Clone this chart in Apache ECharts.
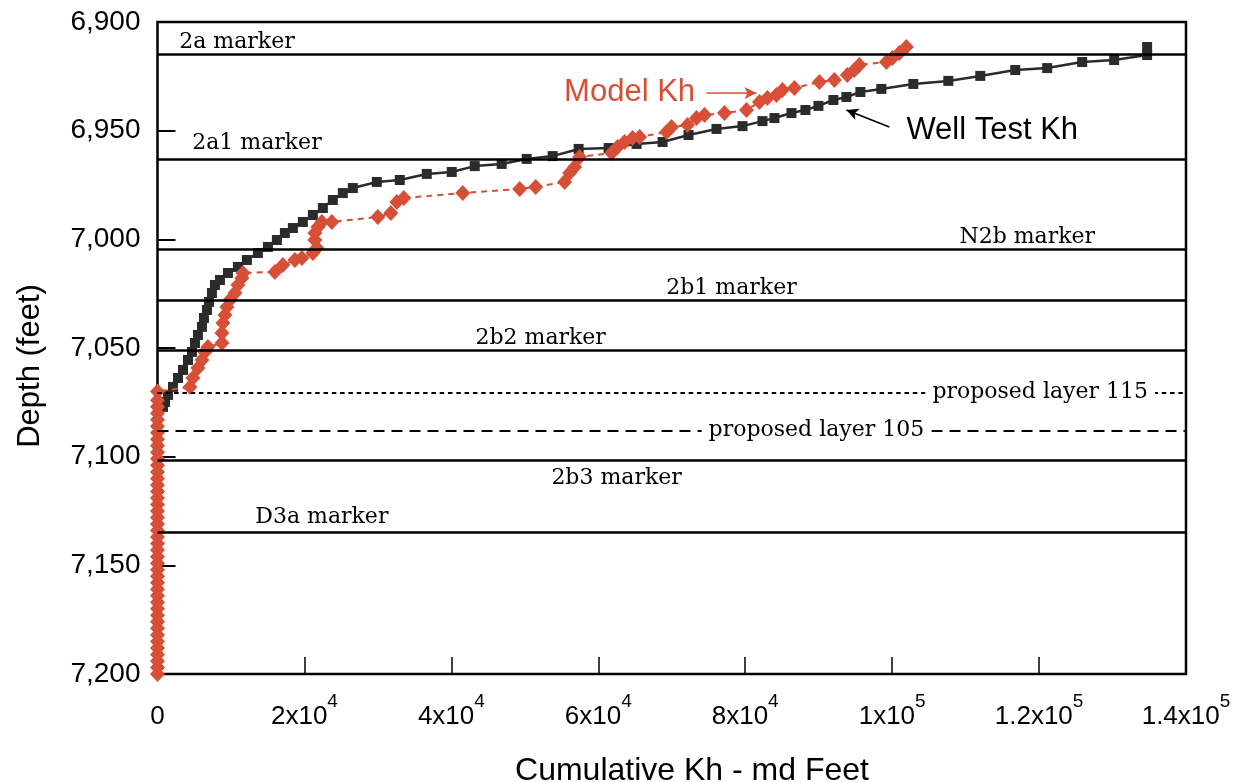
<!DOCTYPE html>
<html>
<head>
<meta charset="utf-8">
<script src="https://cdn.jsdelivr.net/npm/echarts@6/dist/echarts.min.js"></script>
<style>
html,body{margin:0;padding:0;background:#fff;}
#chart{width:1239px;height:782px;}
</style>
</head>
<body>
<div id="chart"></div>
<script>
// ---- axis ticks ----
const depthTicks = [6900, 6950, 7000, 7050, 7100, 7150, 7200];
const depthTickLabels = ['6,900', '6,950', '7,000', '7,050', '7,100', '7,150', '7,200'];
const khTicks = [0, 20000, 40000, 60000, 80000, 100000, 120000, 140000];
const khTickBase = ['0', '2x10', '4x10', '6x10', '8x10', '1x10', '1.2x10', '1.4x10'];
const khTickExp = ['', '4', '4', '4', '4', '5', '5', '5'];

// ---- Well Test Kh (black squares) ----
const wellTestKh = [748, 1020, 1428, 2108, 2788, 3468, 4148, 4692, 5100, 5508, 6052, 6324, 6732, 7004, 7412, 7820,
  8500, 9588, 10948, 12172, 13668, 15028, 16252, 17340, 18428, 19788, 21148, 22508, 23868, 25228, 26588,
  29852, 32980, 36652, 40052, 43180, 46852, 50252, 53788, 57324, 61404, 65212, 68748, 72284, 76092, 79628,
  82348, 83980, 86292, 88196, 89964, 92004, 93772, 95676, 98532, 102884, 107644, 111996, 116756, 121108,
  125868, 130220, 134708, 134708];
const wellTestDepth = [7077.1, 7074.8, 7071.6, 7067.9, 7063.8, 7060.1, 7055.5, 7051.8, 7047.7, 7044.0, 7040.3, 7036.2,
  7032.5, 7028.8, 7024.7, 7021.0, 7018.7, 7015.5, 7012.7, 7009.5, 7006.3, 7003.5, 7000.3, 6997.1, 6994.8,
  6992.0, 6988.8, 6985.6, 6981.9, 6978.7, 6976.4, 6973.6, 6972.7, 6969.9, 6969.0, 6966.3, 6965.3, 6963.0,
  6961.7, 6958.4, 6958.0, 6956.1, 6955.2, 6952.0, 6949.2, 6947.9, 6945.6, 6944.2, 6941.9, 6940.5, 6938.6,
  6935.9, 6934.5, 6932.2, 6930.8, 6928.5, 6927.1, 6924.8, 6922.1, 6921.2, 6918.4, 6917.5, 6915.2, 6911.5];

// ---- Model Kh (red diamonds) ----
const modelKh = [0, 0, 0, 0, 0, 0, 0, 0, 0, 0, 0, 0, 0, 0, 0, 0, 0, 0, 0, 0, 0, 0, 0, 0, 0, 0, 0, 0, 0, 0, 0, 0, 0, 0,
  0, 0, 0, 0, 0, 0, 0, 0, 0, 0,
  4420, 4828, 5508, 6052, 6460, 6868, 8772, 8772, 8908, 9180, 9452, 9860, 10540, 10948, 11492, 11628,
  15980, 17068, 18700, 19652, 21148, 21692, 21420, 21420, 21828, 22372, 23732, 29988, 31756, 32572, 33524,
  41548, 49300, 51476, 55420, 56100, 56780, 57460, 61812, 62628, 63580, 64668, 65620, 69292, 69972, 72148,
  73372, 74460, 77180, 80172, 81940, 83028, 84252, 85068, 86700, 90100, 92140, 93908, 94860, 95540, 99212,
  100028, 100980, 101932];
const modelDepth = [7200, 7197, 7194, 7191, 7188, 7185, 7182, 7179, 7176, 7173, 7170, 7167, 7164, 7161, 7158, 7155,
  7152, 7149, 7146, 7143, 7140, 7137, 7134, 7131, 7128, 7125, 7122, 7119, 7116, 7113, 7110, 7107, 7104, 7101,
  7098, 7095, 7092, 7089, 7086, 7083, 7080, 7077, 7074, 7070,
  7067.9, 7063.8, 7059.2, 7055.5, 7051.8, 7049.5, 7047.7, 7043.1, 7038.5, 7034.8, 7031.1, 7027.9, 7024.7,
  7021.0, 7017.8, 7015.5, 7015.0, 7011.8, 7009.5, 7008.6, 7006.3, 7004.0, 7000.3, 6997.1, 6994.3, 6992.0,
  6992.0, 6989.7, 6987.9, 6982.8, 6981.0, 6978.7, 6976.8, 6975.9, 6973.6, 6969.5, 6966.7, 6962.1, 6960.3,
  6957.5, 6955.2, 6953.4, 6952.9, 6950.6, 6948.3, 6947.4, 6944.2, 6942.8, 6941.9, 6940.5, 6936.8, 6935.0,
  6933.6, 6931.3, 6930.4, 6927.6, 6926.7, 6924.4, 6922.1, 6919.8, 6918.4, 6916.6, 6914.3, 6911.5];

// ---- stratigraphic markers ----
const markerNames = ['2a marker', '2a1 marker', 'N2b marker', '2b1 marker', '2b2 marker',
  'proposed layer 115', 'proposed layer 105', '2b3 marker', 'D3a marker'];
const markerDepths = [6915, 6963, 7004.6, 7028, 7051, 7070.8, 7088, 7101.5, 7135];
const markerKinds = ['solid', 'solid', 'solid', 'solid', 'solid', 'dotted', 'dashed', 'solid', 'solid'];
const markerLabelKh = [10812, 13532, 118388, 78132, 52156, 120156, 89692, 62492, 22372];
const markerLabelDepth = [6909.2, 6955.7, 6998.9, 7022.4, 7045.4, 7070.6, 7087.7, 7109.8, 7127.7];

// ---- annotations ----
const annotNames = ['Model Kh', 'Well Test Kh'];
const annotKh = [64260, 113628];
const annotDepth = [6932.2, 6949.7];
const arrowFrom = [[74732, 6932.7], [99620, 6948.3]];
const arrowTo = [[81532, 6932.7], [93772, 6940.5]];

const RED = '#d64f36';
const BLACK = '#2b2b2b';

function zip(a, b) { return a.map((v, i) => [v, b[i]]); }

const dashFor = { solid: 'solid', dotted: [4.5, 3.8], dashed: [11, 7] };

const option = {
  animation: false,
  backgroundColor: '#fff',
  grid: { left: 157.5, right: 53, top: 22, bottom: 108, show: true, borderColor: '#000', borderWidth: 2.5, backgroundColor: 'transparent' },
  xAxis: {
    type: 'value', min: 0, max: 140000, interval: 20000,
    splitLine: { show: false },
    axisLine: { show: false },
    axisTick: { show: true, inside: true, length: 17, lineStyle: { color: '#000', width: 1.5 } },
    axisLabel: {
      margin: 18,
      formatter: function (v) {
        const i = khTicks.indexOf(v);
        if (i < 0) return '';
        return khTickExp[i] ? '{m|' + khTickBase[i] + '}{e|' + khTickExp[i] + '}' : '{m|' + khTickBase[i] + '}';
      },
      rich: {
        m: { fontFamily: 'Liberation Sans', fontSize: 26, color: '#000', lineHeight: 50 },
        e: { fontFamily: 'Liberation Sans', fontSize: 19, color: '#000', verticalAlign: 'top', lineHeight: 20 }
      }
    }
  },
  yAxis: {
    type: 'value', min: 6900, max: 7200, interval: 50, inverse: true,
    splitLine: { show: false },
    axisLine: { show: false },
    axisTick: { show: true, inside: true, length: 18, lineStyle: { color: '#000', width: 2 } },
    axisLabel: {
      margin: 17,
      fontFamily: 'Liberation Sans', fontSize: 28, color: '#000',
      formatter: function (v) { const i = depthTicks.indexOf(v); return i < 0 ? '' : depthTickLabels[i]; }
    }
  },
  graphic: [
    { type: 'text', x: 30, y: 366, rotation: Math.PI / 2,
      style: { text: 'Depth (feet)', fontFamily: 'Liberation Sans', fontSize: 31, fill: '#000', align: 'center', verticalAlign: 'middle' } },
    { type: 'text', x: 692, y: 771,
      style: { text: 'Cumulative Kh - md Feet', fontFamily: 'Liberation Sans', fontSize: 32, fill: '#000', align: 'center', verticalAlign: 'middle' } }
  ],
  series: [
    {
      name: 'markers', type: 'line', data: [], z: 1, silent: true,
      markLine: {
        silent: true, symbol: ['none', 'none'], animation: false,
        label: { show: false },
        data: markerDepths.map((d, i) => ({ yAxis: d, lineStyle: { color: '#000', width: markerKinds[i] === 'solid' ? 2.5 : 2, type: dashFor[markerKinds[i]] } }))
      }
    },
    {
      name: 'Well Test Kh', type: 'line', z: 3, clip: false,
      data: zip(wellTestKh, wellTestDepth),
      symbol: 'rect', symbolSize: 10, showAllSymbol: true,
      itemStyle: { color: BLACK, opacity: 1 },
      lineStyle: { color: BLACK, width: 2.5 }
    },
    {
      name: 'Model Kh', type: 'line', z: 4, clip: false,
      data: zip(modelKh, modelDepth),
      symbol: 'diamond', symbolSize: [15, 16], showAllSymbol: true,
      itemStyle: { color: RED, opacity: 1 },
      lineStyle: { color: RED, width: 2, type: [6, 5] }
    },
    {
      name: 'marker labels', type: 'scatter', z: 5, silent: true,
      symbolSize: 0,
      itemStyle: { opacity: 1 },
      data: markerNames.map((n, i) => {
        const item = { name: n, value: [markerLabelKh[i], markerLabelDepth[i]] };
        if (markerKinds[i] !== 'solid') item.label = { backgroundColor: '#fff', padding: [2, 7] };
        return item;
      }),
      label: { show: true, opacity: 1, position: 'inside', formatter: '{b}', fontFamily: 'DejaVu Serif', fontSize: 22, color: '#000' }
    },
    {
      name: 'annotations', type: 'scatter', z: 6, silent: true,
      symbolSize: 0,
      itemStyle: { opacity: 1 },
      data: annotNames.map((n, i) => ({
        name: n, value: [annotKh[i], annotDepth[i]],
        label: { color: i === 0 ? RED : '#000', fontSize: 31 }
      })),
      label: { show: true, opacity: 1, position: 'inside', formatter: '{b}', fontFamily: 'Liberation Sans' },
      markLine: {
        silent: true, animation: false, symbol: ['none', 'arrow'], symbolSize: [9, 12],
        label: { show: false },
        data: arrowFrom.map((f, i) => [
          { coord: f, lineStyle: { color: i === 0 ? RED : '#000', width: 1.6, type: 'solid', opacity: 1 } },
          { coord: arrowTo[i] }
        ])
      }
    }
  ]
};

const chart = echarts.init(document.getElementById('chart'), null, { renderer: 'canvas' });
chart.setOption(option);
</script>
</body>
</html>
